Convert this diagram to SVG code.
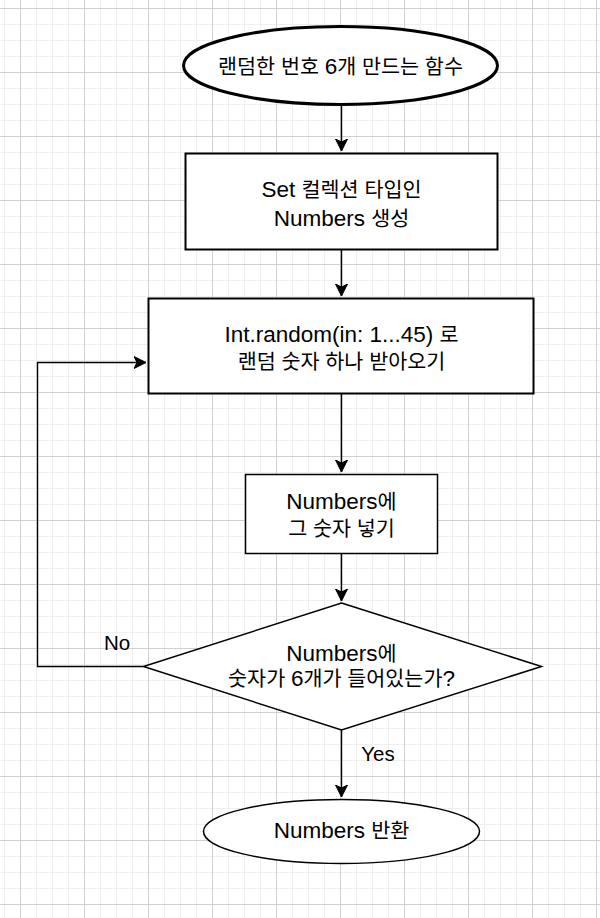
<svg xmlns="http://www.w3.org/2000/svg" width="600" height="918" viewBox="0 0 600 918">
<style>
.t{font-family:"Liberation Sans","Noto Sans CJK KR",sans-serif;font-size:22.5px;fill:#000;text-anchor:middle}
.k{font-size:20.7px}
.l{font-family:"Liberation Sans","Noto Sans CJK KR",sans-serif;font-size:20.5px;fill:#000;text-anchor:middle}
.n{fill:#fff;stroke:#000}
.c{fill:none;stroke:#000;stroke-width:1.4}
</style>
<defs>
<pattern id="minor" patternUnits="userSpaceOnUse" x="4" y="8" width="16" height="16">
<path d="M0.5,0V16M0,0.5H16" stroke="#efefef" stroke-width="1" fill="none"/>
</pattern>
<pattern id="major" patternUnits="userSpaceOnUse" x="20" y="8" width="64" height="64">
<path d="M0.5,0V64M0,0.5H64" stroke="#d0d0d0" stroke-width="1" fill="none"/>
</pattern>
<marker id="arr" markerUnits="userSpaceOnUse" markerWidth="14" markerHeight="14" viewBox="-12 -7 14 14" refX="0" refY="0" orient="auto">
<path d="M0,0 L-12,-6 L-9,0 L-12,6 Z" fill="#000" stroke="#000" stroke-width="1"/>
</marker>
</defs>
<rect width="600" height="918" fill="#fff"/>
<rect width="600" height="918" fill="url(#minor)"/>
<rect width="600" height="918" fill="url(#major)"/>
<g id="connectors">
<path class="c" d="M341.5,104V151" marker-end="url(#arr)"/>
<path class="c" d="M341.5,250V296" marker-end="url(#arr)"/>
<path class="c" d="M341.5,394V472" marker-end="url(#arr)"/>
<path class="c" d="M341.5,554V601" marker-end="url(#arr)"/>
<path class="c" d="M143.5,666.5H37.5V362.5H146" marker-end="url(#arr)"/>
<path class="c" d="M341.5,730V797" marker-end="url(#arr)"/>
<text class="l" x="117" y="650">No</text>
<text class="l" x="378" y="761">Yes</text>
</g>
<g id="start">
<ellipse class="n" cx="340.5" cy="65.5" rx="157" ry="39" stroke-width="3"/>
<text class="t" x="340.5" y="74"><tspan class="k">랜덤한 번호 </tspan>6<tspan class="k">개 만드는 함수</tspan></text>
</g>
<g id="create">
<rect class="n" x="185.5" y="153.5" width="312" height="96" stroke-width="2"/>
<text class="t" x="341.5" y="197">Set <tspan class="k">컬렉션 타입인</tspan></text>
<text class="t" x="341.5" y="226">Numbers <tspan class="k">생성</tspan></text>
</g>
<g id="random">
<rect class="n" x="148.5" y="298.5" width="385" height="95" stroke-width="2"/>
<text class="t" x="341.5" y="342">Int.random(in: 1...45) <tspan class="k">로</tspan></text>
<text class="t" x="341.5" y="369"><tspan class="k">랜덤 숫자 하나 받아오기</tspan></text>
</g>
<g id="insert">
<rect class="n" x="245.5" y="474.5" width="192" height="79" stroke-width="1.5"/>
<text class="t" x="341.5" y="509">Numbers<tspan class="k">에</tspan></text>
<text class="t" x="341.5" y="536"><tspan class="k">그 숫자 넣기</tspan></text>
</g>
<g id="check">
<path class="n" d="M341.5,603 L541.5,666.5 L341.5,730 L143.5,666.5 Z" stroke-width="1.5"/>
<text class="t" x="341.5" y="661">Numbers<tspan class="k">에</tspan></text>
<text class="t" x="341.5" y="686"><tspan class="k">숫자가 </tspan>6<tspan class="k">개가 들어있는가</tspan>?</text>
</g>
<g id="end">
<ellipse class="n" cx="341.5" cy="831.5" rx="138" ry="32" stroke-width="1.5"/>
<text class="t" x="341.5" y="838">Numbers <tspan class="k">반환</tspan></text>
</g>
</svg>
